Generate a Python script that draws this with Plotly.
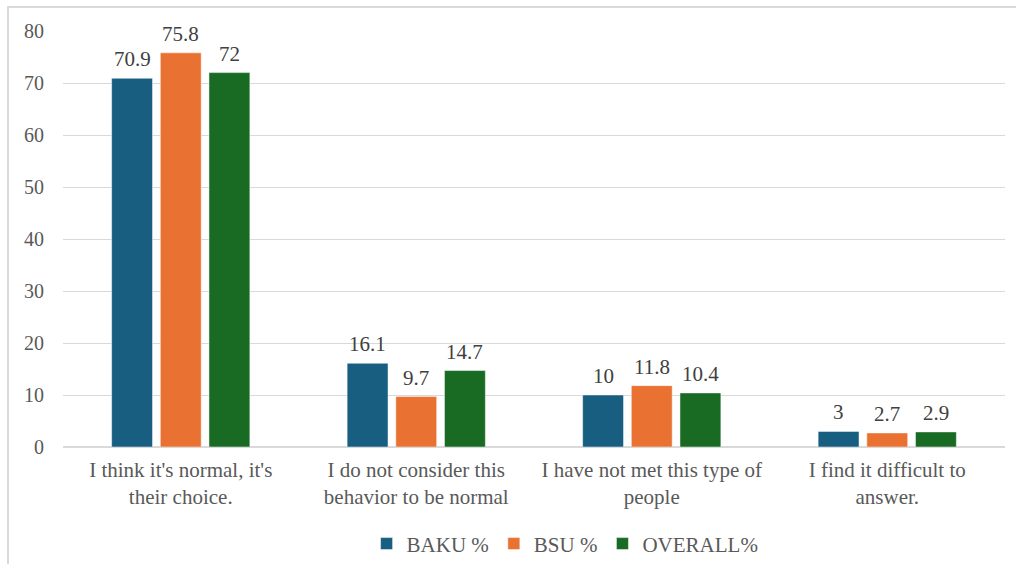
import plotly.graph_objects as go

categories = [
    "I think it's normal, it's<br>their choice.",
    "I do not consider this<br>behavior to be normal",
    "I have not met this type of<br>people",
    "I find it difficult to<br>answer.",
]
baku = [70.9, 16.1, 10, 3]
bsu = [75.8, 9.7, 11.8, 2.7]
overall = [72, 14.7, 10.4, 2.9]

series = [
    ("BAKU %", baku, "#175E80"),
    ("BSU %", bsu, "#E97132"),
    ("OVERALL%", overall, "#196B24"),
]

FONT = "Liberation Serif"
W, H = 1016, 564
ML, MR, MT, MB = 63, 11, 31, 117
BARGAP = 0.38

fig = go.Figure()
for name, vals, color in series:
    fig.add_trace(go.Bar(
        x=categories, y=vals, name=name,
        marker=dict(color=color, line=dict(color="rgba(255,255,255,0.6)", width=0.8)),
    ))

# value labels above each bar, offset to the bar's slot within the group
slot = (W - ML - MR) / len(categories) * (1 - BARGAP) / len(series)
for i, (name, vals, color) in enumerate(series):
    for cat, v in zip(categories, vals):
        fig.add_annotation(
            x=cat, y=v, text=f"{v:g}", showarrow=False,
            xshift=(i - 1) * slot, yshift=5, yanchor="bottom",
            font=dict(family=FONT, size=21, color="#404040"),
        )

# outer chart border
fig.add_shape(type="rect", xref="paper", yref="paper",
              x0=(8 - ML) / (W - ML - MR), x1=1.03, y0=-0.32, y1=1 + 24 / (H - MT - MB),
              line=dict(color="#D9D9D9", width=2), layer="below")

fig.update_layout(
    width=W, height=H,
    margin=dict(l=ML, r=MR, t=MT, b=MB, autoexpand=False),
    paper_bgcolor="white", plot_bgcolor="white",
    barmode="group", bargap=BARGAP, bargroupgap=0.16,
    font=dict(family=FONT, color="#595959", size=20),
    showlegend=True,
    legend=dict(orientation="h", x=0.533, xanchor="center", y=-0.233, yanchor="middle",
                font=dict(family=FONT, size=21, color="#595959"),
                itemwidth=30, tracegroupgap=0),
    xaxis=dict(tickfont=dict(family=FONT, size=21, color="#595959"),
               showline=False, ticks="", ticklabelstandoff=8, automargin=False),
    yaxis=dict(range=[0, 80], dtick=10, showgrid=True, gridcolor="#D9D9D9",
               zeroline=True, zerolinecolor="#D9D9D9", zerolinewidth=1.5,
               tickfont=dict(family=FONT, size=20, color="#595959"),
               ticks="", ticklabelstandoff=18, automargin=False),
)

fig.write_html("out.html")
